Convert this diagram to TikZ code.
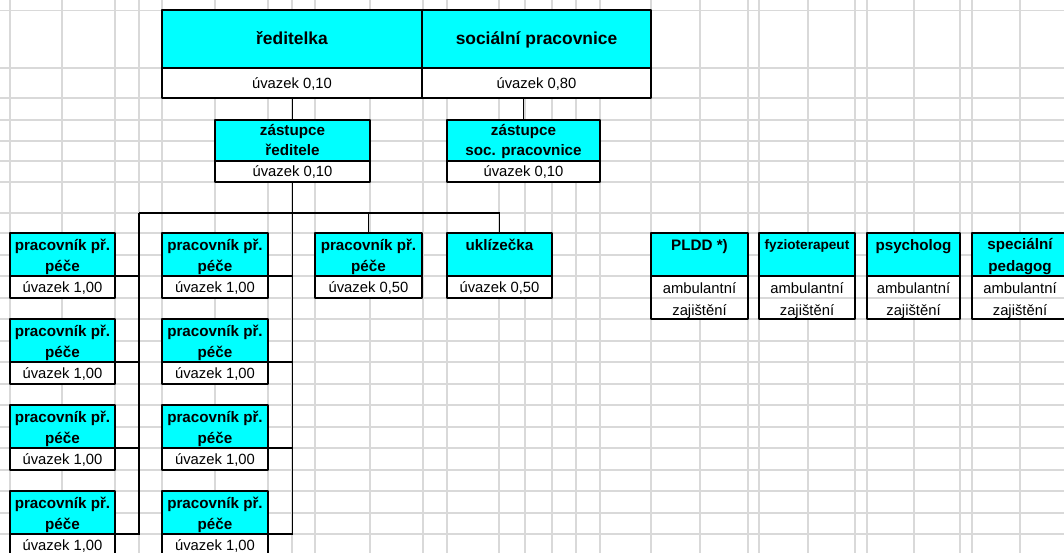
\documentclass[tikz,border=0pt]{standalone}
\usepackage{fontspec}
\setmainfont{Liberation Sans}
\usetikzlibrary{fit}
\definecolor{gridgrey}{HTML}{D9D9D9}
\definecolor{boxcyan}{HTML}{00FFFF}
\tikzset{
  gridline/.style={draw=gridgrey, line width=1.4pt},
  titlebox/.style={draw=black, fill=boxcyan, line width=2.8pt, inner sep=0pt, outer sep=0pt, line join=round},
  subbox/.style={draw=black, fill=white, line width=2.8pt, inner sep=0pt, outer sep=0pt, line join=round},
  conn/.style={draw=black, line width=1.9pt},
  bigtitle/.style={font=\fontsize{17.4}{20}\selectfont\bfseries, anchor=base, inner sep=0pt},
  ttext/.style={font=\fontsize{15.2}{18}\selectfont\bfseries, anchor=base, inner sep=0pt},
  smalltitle/.style={font=\fontsize{13.6}{16}\selectfont\bfseries, anchor=base, inner sep=0pt},
  stext/.style={font=\fontsize{14.8}{18}\selectfont, anchor=base, inner sep=0pt},
}
\begin{document}
\begin{tikzpicture}[x=1pt,y=-1pt]
\useasboundingbox (0,0) rectangle (1064,553);
% spreadsheet grid
\foreach \gx in {10,62,115,139,162,215,268,292,315,370,423,447,499,525,552,576,600,651,700,748,759,808,855,867,914,960,972,1020}
  \draw[gridline] (\gx,0) -- (\gx,553);
\foreach \gy in {10.5,68,98,120,141,161,182,213,233,255,276,298,319,341,362,384,405,427,448,470,491,513,534}
  \draw[gridline] (0,\gy) -- (1064,\gy);

% top boxes
\node[titlebox, fit={(162,10) (422,68)}] (ret) {};
\node[subbox, fit={(162,68) (422,98)}] (res) {};
\node[titlebox, fit={(422,10) (651,68)}] (sot) {};
\node[subbox, fit={(422,68) (651,98)}] (sos) {};
% deputies
\node[titlebox, fit={(215,120) (370,161)}] (zrt) {};
\node[subbox, fit={(215,161) (370,182)}] (zrs) {};
\node[titlebox, fit={(447,120) (600,161)}] (zst) {};
\node[subbox, fit={(447,161) (600,182)}] (zss) {};
% care workers, two columns
\foreach \rr in {0,1,2,3}{
  \pgfmathsetmacro\yt{233+86*\rr}
  \pgfmathsetmacro\ym{276+86*\rr}
  \pgfmathsetmacro\yb{298+86*\rr}
  \node[titlebox, fit={(10,\yt) (115,\ym)}] (a\rr t) {};
  \node[subbox, fit={(10,\ym) (115,\yb)}] (a\rr s) {};
  \node[titlebox, fit={(162,\yt) (268,\ym)}] (b\rr t) {};
  \node[subbox, fit={(162,\ym) (268,\yb)}] (b\rr s) {};
}
\node[titlebox, fit={(315,233) (422,276)}] (halft) {};
\node[subbox, fit={(315,276) (422,298)}] (halfs) {};
\node[titlebox, fit={(447,233) (552,276)}] (uklt) {};
\node[subbox, fit={(447,276) (552,298)}] (ukls) {};
% outside staff
\node[titlebox, fit={(651,233) (748,276)}] (pldt) {};
\node[subbox, fit={(651,276) (748,319)}] (plds) {};
\node[titlebox, fit={(759,233) (855,276)}] (fyzt) {};
\node[subbox, fit={(759,276) (855,319)}] (fyzs) {};
\node[titlebox, fit={(867,233) (960,276)}] (psyt) {};
\node[subbox, fit={(867,276) (960,319)}] (psys) {};
\node[titlebox, fit={(972,233) (1068,276)}] (spet) {};
\node[subbox, fit={(972,276) (1068,319)}] (spes) {};
\foreach \bx in {plds,fyzs,psys,spes}
  \draw[gridline] ([xshift=1.4pt]\bx.west |- 0,298) -- ([xshift=-1.4pt]\bx.east |- 0,298);

% connectors
\draw[conn] (zrt.north |- res.south) -- (zrt.north);
\draw[conn] (zst.north |- sos.south) -- (zst.north);
\coordinate (busL) at (139,213);
\draw[conn] (busL) -- (uklt.north |- busL) -- (uklt.north);
\draw[conn] (halft.north |- busL) -- (halft.north);
\draw[conn] (zrs.south) -- (zrs.south |- b3t.south east) -- (b3t.south east);
\draw[conn] (busL) -- (busL |- a3t.south east) -- (a3t.south east);
\foreach \rr in {0,1,2}{
  \draw[conn] (b\rr t.south east) -- (b\rr t.south east -| zrs.south);
  \draw[conn] (a\rr t.south east) -- (a\rr t.south east -| busL);
}

% texts
\node[bigtitle] (retx) at (292,45) {ředitelka};
\node[stext] (resx) at (292,89) {úvazek 0,10};
\node[bigtitle] (sotx) at (536.5,45) {sociální pracovnice};
\node[stext] (sosx) at (536.5,89) {úvazek 0,80};
\node[ttext] (zrtx1) at (292.5,136) {zástupce};
\node[ttext] (zrtx2) at (292.5,156) {ředitele};
\node[stext] (zrsx) at (292.5,177) {úvazek 0,10};
\node[ttext] (zstx1) at (523.5,136) {zástupce};
\node[ttext] (zstx2) at (523.5,156) {soc. pracovnice};
\node[stext] (zssx) at (523.5,177) {úvazek 0,10};
\foreach \rr in {0,1,2,3}{
  \pgfmathsetmacro\ba{250+86*\rr}
  \pgfmathsetmacro\bb{271.7+86*\rr}
  \pgfmathsetmacro\bc{292.7+86*\rr}
  \node[ttext] (a\rr x1) at (62.5,\ba) {pracovník př.};
  \node[ttext] (a\rr x2) at (62.5,\bb) {péče};
  \node[stext] (a\rr x3) at (62.5,\bc) {úvazek 1,00};
  \node[ttext] (b\rr x1) at (215,\ba) {pracovník př.};
  \node[ttext] (b\rr x2) at (215,\bb) {péče};
  \node[stext] (b\rr x3) at (215,\bc) {úvazek 1,00};
}
\node[ttext] (halfx1) at (368.5,250) {pracovník př.};
\node[ttext] (halfx2) at (368.5,271.7) {péče};
\node[stext] (halfx3) at (368.5,292.7) {úvazek 0,50};
\node[ttext] (uklx1) at (499.5,250) {uklízečka};
\node[stext] (uklx3) at (499.5,292.7) {úvazek 0,50};
\node[ttext] (pldx1) at (699.5,250.5) {PLDD *)};
\node[smalltitle] (fyzx1) at (807,249) {fyzioterapeut};
\node[ttext] (psyx1) at (913.5,250.5) {psycholog};
\node[ttext] (spex1) at (1020,249.5) {speciální};
\node[ttext] (spex2) at (1020,271.7) {pedagog};
\foreach \bx/\cx in {pld/699.5,fyz/807,psy/913.5,spe/1020}{
  \node[stext] (\bx a1) at (\cx,293.3) {ambulantní};
  \node[stext] (\bx a2) at (\cx,315) {zajištění};
}
\end{tikzpicture}
\end{document}
